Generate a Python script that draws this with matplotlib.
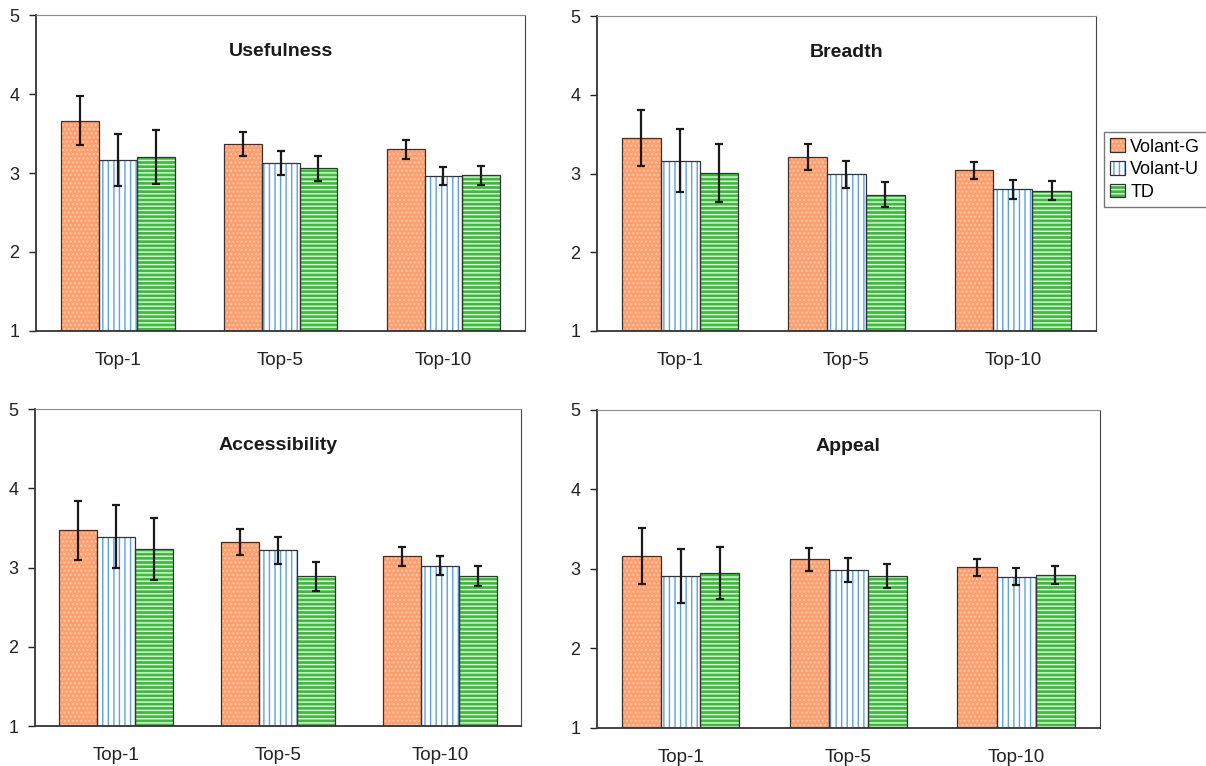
import numpy as np
import matplotlib
matplotlib.use("Agg")
import matplotlib.pyplot as plt
from matplotlib.patches import Patch

plt.rcParams['font.family'] = ['Liberation Sans', 'DejaVu Sans']
plt.rcParams['hatch.linewidth'] = 1.0

categories = ['Top-1', 'Top-5', 'Top-10']
series = ['Volant-G', 'Volant-U', 'TD']

titles = ['Usefulness', 'Breadth', 'Accessibility', 'Appeal']

# mean values per panel: rows = series (G, U, TD), cols = categories
usefulness = [[3.66, 3.37, 3.30],
              [3.16, 3.13, 2.96],
              [3.20, 3.06, 2.97]]
usefulness_err = [[0.31, 0.15, 0.12],
                  [0.33, 0.15, 0.11],
                  [0.34, 0.16, 0.12]]

breadth = [[3.45, 3.21, 3.04],
           [3.16, 2.99, 2.80],
           [3.01, 2.73, 2.78]]
breadth_err = [[0.36, 0.16, 0.11],
               [0.40, 0.17, 0.12],
               [0.37, 0.16, 0.12]]

accessibility = [[3.47, 3.32, 3.14],
                 [3.39, 3.22, 3.02],
                 [3.23, 2.89, 2.89]]
accessibility_err = [[0.37, 0.16, 0.12],
                     [0.40, 0.17, 0.12],
                     [0.39, 0.18, 0.125]]

appeal = [[3.16, 3.12, 3.02],
          [2.91, 2.99, 2.90],
          [2.95, 2.91, 2.92]]
appeal_err = [[0.35, 0.145, 0.105],
              [0.34, 0.15, 0.105],
              [0.33, 0.155, 0.115]]

panel_values = [usefulness, breadth, accessibility, appeal]
panel_errors = [usefulness_err, breadth_err, accessibility_err, appeal_err]

# styles: face colour, hatch, hatch colour
styles = [('#FF9E6E', '....', '#FFC9AA'),
          ('white', '|||', '#5A9FEA'),
          ('#3DBB3D', '----', '#E8F8E8')]

# axes rectangles in figure fractions [left, bottom, width, height]
rects = [[0.0299, 0.5679, 0.4054, 0.4125],
         [0.4950, 0.5679, 0.4138, 0.4111],
         [0.0290, 0.0522, 0.4030, 0.4138],
         [0.4950, 0.0500, 0.4170, 0.4148]]

fig = plt.figure(figsize=(12.06, 7.66), dpi=100)

x = np.arange(len(categories))
w = 0.233

for k in range(4):
    ax = fig.add_axes(rects[k])
    vals = panel_values[k]
    errs = panel_errors[k]
    for i in range(3):
        face, hatch, hcol = styles[i]
        pos = x + (i - 1) * w
        heights = np.array(vals[i]) - 1
        ax.bar(pos, heights, w, bottom=1, color=face, hatch=hatch,
               edgecolor=hcol, linewidth=0, zorder=2)
        ax.bar(pos, heights, w, bottom=1, color='none',
               edgecolor='#333333', linewidth=0.9, zorder=3)
        ax.errorbar(pos, vals[i], yerr=errs[i], fmt='none', ecolor='#1a1a1a',
                    elinewidth=1.6, capsize=3, capthick=1.6, zorder=4)
    ax.set_xlim(-0.5, 2.5)
    ax.set_ylim(1, 5)
    ax.set_yticks([1, 2, 3, 4, 5])
    ax.set_xticks(x)
    ax.set_xticklabels(categories)
    ax.tick_params(axis='x', length=0, pad=15, labelsize=13.5, colors='#222222')
    ax.tick_params(axis='y', length=5, width=1, direction='out', pad=7,
                   labelsize=13, colors='#222222')
    ax.spines['left'].set_color('#333333')
    ax.spines['bottom'].set_color('#333333')
    ax.spines['left'].set_linewidth(1.3)
    ax.spines['bottom'].set_linewidth(1.3)
    ax.spines['top'].set_color('#8a8a8a')
    ax.spines['right'].set_color('#444444')
    ax.text(0.5, 0.885, titles[k], transform=ax.transAxes, ha='center',
            va='center', fontsize=14, fontweight='bold', color='#1a1a1a')

handles = [(Patch(facecolor=s[0], hatch=s[1], edgecolor=s[2], linewidth=0),
            Patch(facecolor='none', edgecolor='#333333', linewidth=0.9))
           for s in styles]
leg = fig.legend(handles, series, loc='upper left',
                 bbox_to_anchor=(1104 / 1206, 1 - 132 / 766),
                 fontsize=13, frameon=True, fancybox=False, borderaxespad=0,
                 handlelength=0.8, handleheight=0.8, handletextpad=0.3,
                 borderpad=0.35, labelspacing=0.3)
leg.get_frame().set_edgecolor('#555555')
leg.get_frame().set_linewidth(1.0)

fig.savefig('out.png', dpi=100)
